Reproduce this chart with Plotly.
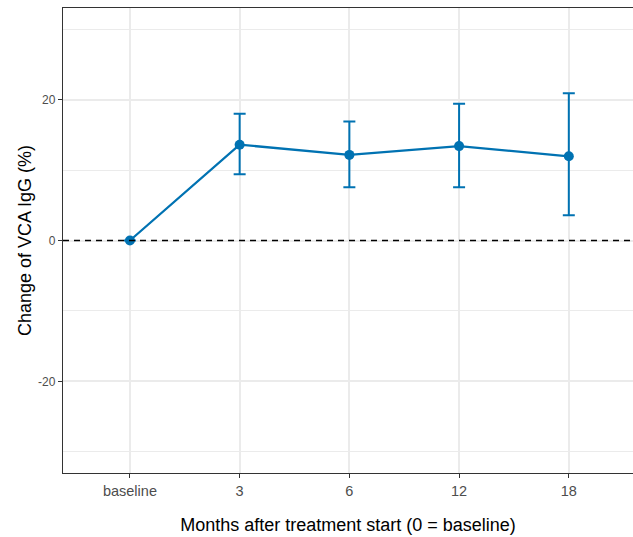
import plotly.graph_objects as go

# Change of VCA IgG by visit (mean with error bars)
visits = ["baseline", "3", "6", "12", "18"]
change_pct = [0.0, 13.6, 12.15, 13.4, 11.95]
upper_ci = [0.0, 18.0, 16.9, 19.4, 20.9]
lower_ci = [0.0, 9.4, 7.55, 7.55, 3.6]

err_plus = [u - m for u, m in zip(upper_ci, change_pct)]
err_minus = [m - l for m, l in zip(change_pct, lower_ci)]

blue = "#0072B2"

fig = go.Figure()

fig.add_trace(go.Scatter(
    x=list(range(len(visits))),
    y=change_pct,
    mode="lines+markers",
    line=dict(color=blue, width=2.3),
    marker=dict(color=blue, size=10),
    error_y=dict(
        type="data", symmetric=False,
        array=err_plus, arrayminus=err_minus,
        color=blue, thickness=2, width=6,
    ),
    showlegend=False,
    hoverinfo="skip",
))

# dashed reference line at zero change
fig.add_shape(
    type="line", xref="paper", yref="y",
    x0=0, x1=1, y0=0, y1=0,
    line=dict(color="black", width=1.5, dash="6px,5px"),
    layer="above",
)

fig.update_layout(
    width=633, height=537,
    margin=dict(l=63, r=0, t=8, b=64),
    paper_bgcolor="white",
    plot_bgcolor="white",
    font=dict(family="Liberation Sans, Arial, sans-serif", color="black"),
    xaxis=dict(
        tickmode="array",
        tickvals=list(range(len(visits))),
        ticktext=visits,
        range=[-0.61, 4.585],
        showgrid=True, gridcolor="#EBEBEB", gridwidth=2,
        showline=True, linecolor="#333333", linewidth=1.3, mirror=True,
        ticks="outside", ticklen=4, tickwidth=1.3, tickcolor="#333333",
        tickfont=dict(size=14.5, color="#4D4D4D"),
        title=dict(text="Months after treatment start (0 = baseline)",
                   font=dict(size=18, color="black"), standoff=20),
        zeroline=False,
    ),
    yaxis=dict(
        range=[-33, 33],
        tickvals=[-20, 0, 20],
        ticktext=["-20", "0", "20"],
        showgrid=True, gridcolor="#EBEBEB", gridwidth=2,
        minor=dict(tickvals=[-30, -10, 10, 30], showgrid=True,
                   gridcolor="#EBEBEB", gridwidth=1, ticks=""),
        showline=True, linecolor="#333333", linewidth=1.3,
        ticks="outside", ticklen=4, tickwidth=1.3, tickcolor="#333333",
        tickfont=dict(size=12, color="#4D4D4D"),
        title=dict(text="Change of VCA IgG (%)",
                   font=dict(size=18, color="black"), standoff=1),
        zeroline=False,
    ),
)

fig.write_html("out.html")
